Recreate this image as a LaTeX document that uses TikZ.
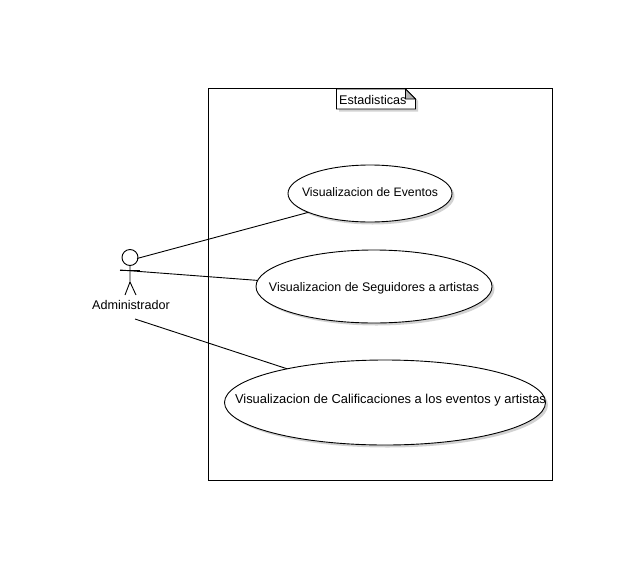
\documentclass[tikz,border=0pt]{standalone}
\usepackage{fontspec}
\setmainfont{Liberation Sans}
\usetikzlibrary{shapes.geometric}
\tikzset{
  usecase/.style={ellipse,draw=black,fill=white,line width=0.9pt,inner sep=0pt,outer sep=0pt},
  ushadow/.style={ellipse,fill=black!35,opacity=0.5,inner sep=0pt,outer sep=0pt},
  conn/.style={draw=black,line width=0.9pt},
  lbl/.style={inner sep=0pt,font=\fontsize{12.6}{14}\selectfont},
}
\begin{document}
\begin{tikzpicture}[x=1pt,y=-1pt]
\useasboundingbox (0,0) rectangle (640,568);
\fill[white] (0,0) rectangle (640,568);
% system frame
\node[draw=black,line width=0.9pt,minimum width=344pt,minimum height=392pt,inner sep=0pt,outer sep=0pt,anchor=north west] (frame) at (208.5,88.5) {};
% note tab
\fill[black!35,opacity=0.5] (339,91) -- (408,91) -- (418,101) -- (418,111.5) -- (339,111.5) -- cycle;
\draw[line width=0.9pt,fill=white] (336.5,89) -- (405.5,89) -- (415.5,99) -- (415.5,109) -- (336.5,109) -- cycle;
\fill[black!30] (405.5,89) -- (415.5,99) -- (405.5,99) -- cycle;
\draw[line width=0.9pt] (405.5,89) -- (415.5,99) -- (405.5,99) -- cycle;
\node[lbl,anchor=west] (title) at (339,100) {Estadisticas};
% use case shadows
\node[ushadow,minimum width=164pt,minimum height=57pt] (s1) at (372.5,196) {};
\node[ushadow,minimum width=236pt,minimum height=73pt] (s2) at (376.5,289) {};
\node[ushadow,minimum width=321pt,minimum height=85pt] (s3) at (387.5,405) {};
% use cases
\node[usecase,minimum width=164pt,minimum height=57pt] (e1) at (370,193.5) {};
\node[usecase,minimum width=236pt,minimum height=73pt] (e2) at (374,286.5) {};
\node[usecase,minimum width=321pt,minimum height=85pt] (e3) at (385,402.5) {};
\node[lbl,font=\fontsize{12.25}{14}\selectfont] (t1) at (370,192.5) {Visualizacion de Eventos};
\node[lbl,font=\fontsize{12.45}{14}\selectfont] (t2) at (374,288) {Visualizacion de Seguidores a artistas};
\node[lbl,font=\fontsize{12.9}{14}\selectfont] (t3) at (390.5,400.5) {Visualizacion de Calificaciones a los eventos y artistas};
% actor
\node[circle,draw=black,fill=white,line width=0.9pt,minimum size=16pt,inner sep=0pt,outer sep=0pt] (head) at (130,257.5) {};
\coordinate (neck) at (130,265.5);
\coordinate (hip) at (130,282);
\coordinate (footl) at (125,295);
\coordinate (footr) at (136,295);
\coordinate (armend) at (120,270);
\coordinate (armr) at (140,270);
\draw[conn] (neck) -- (hip) -- (footl);
\draw[conn] (hip) -- (footr);
\draw[conn] (armend) -- (armr);
\node[lbl] (actor) at (131,304.5) {Administrador};
% connectors
\coordinate (a1) at (137,258.5);
\coordinate (a3) at (135,319);
\draw[conn] (a1) -- (e1.197);
\draw[conn] (armend) -- (e2.177);
\draw[conn] (a3) -- (e3.161);
\end{tikzpicture}
\end{document}
